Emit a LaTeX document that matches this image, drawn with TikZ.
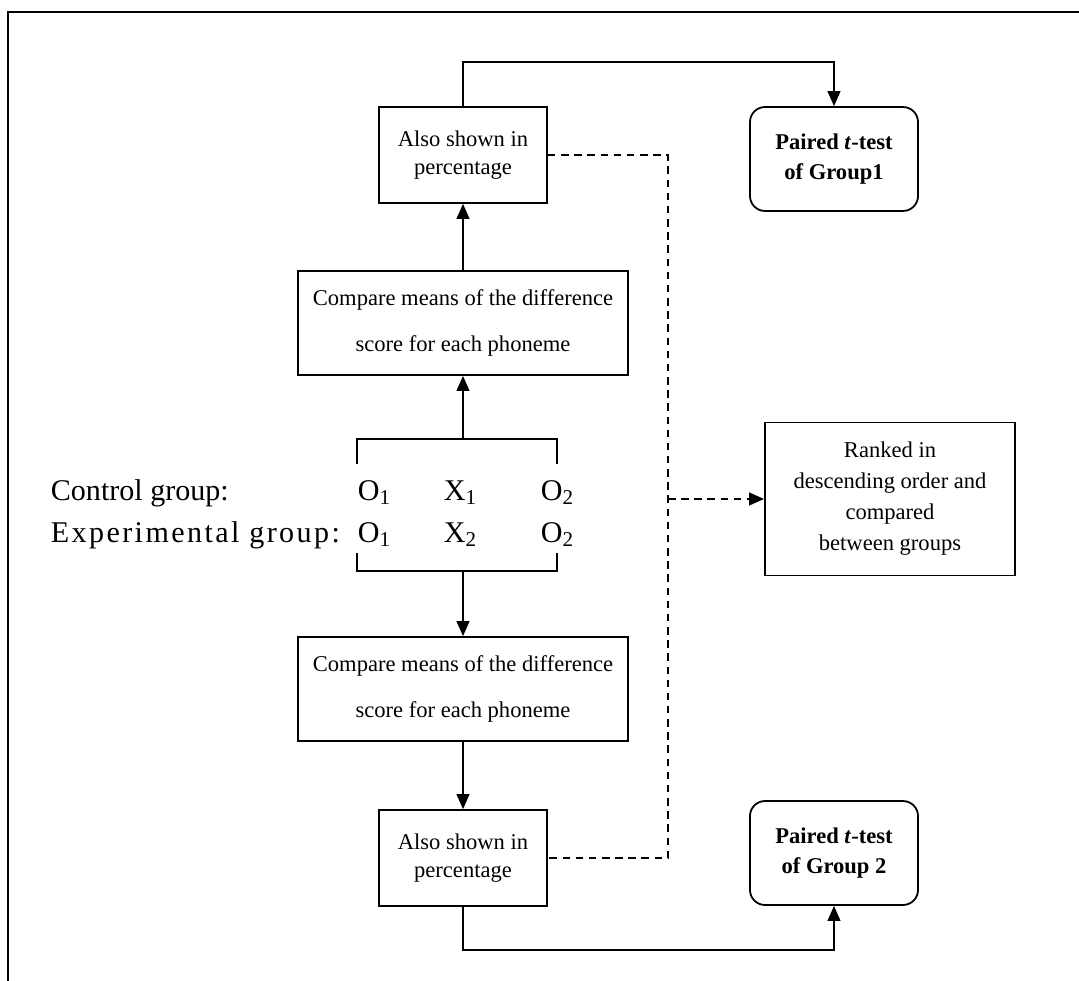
\documentclass[tikz,border=0pt]{standalone}
\usepackage{fontspec}
\setmainfont{Liberation Serif}
\usetikzlibrary{arrows.meta, positioning}

\begin{document}
\begin{tikzpicture}[x=0.532pt, y=-0.532pt, >={Triangle[length=8pt,width=6.8pt]},
    font=\fontsize{12}{15}\selectfont, line width=0.95pt,
    b/.style={rectangle, draw, line width=0.95pt, align=center, inner sep=2pt},
    pct/.style={b, minimum width=89.4pt, minimum height=51pt},
    cmp/.style={b, minimum width=175.6pt, minimum height=55.3pt, font=\fontsize{12}{24}\selectfont},
    ttest/.style={b, rounded corners=8pt, minimum width=89.4pt, minimum height=55.3pt, font=\bfseries\fontsize{12}{16}\selectfont},
    grp/.style={anchor=base west, inner sep=0pt, font=\fontsize{16}{19}\selectfont},
    dsh/.style={dash pattern=on 4pt off 3pt}]
\useasboundingbox (0,0) rectangle (1079,980);
\draw[line width=1.1pt] (8,1000) -- (8,12) -- (1100,12);
\node[pct] (top) at (463,155) {Also shown in\\percentage};
\node[ttest] (pt1) at (834,159) {Paired \textit{t}-test\\of Group1};
\node[cmp] (cmp1) at (463,323) {Compare means of the difference\\score for each phoneme};
\node[grp] (cl)  at (50,500)  {Control group:};
\node[grp] (co1) at (357,500) {O\textsubscript{1}};
\node[grp] (cx1) at (443,500) {X\textsubscript{1}};
\node[grp] (co2) at (540,500) {O\textsubscript{2}};
\node[grp] (el)  at (50,542)  {\addfontfeature{LetterSpace=8}Experimental group:};
\node[grp] (eo1) at (357,542) {O\textsubscript{1}};
\node[grp] (ex2) at (443,542) {X\textsubscript{2}};
\node[grp] (eo2) at (540,542) {O\textsubscript{2}};
\node[cmp] (cmp2) at (463,689) {Compare means of the difference\\score for each phoneme};
\node[pct] (bot) at (463,858) {Also shown in\\percentage};
\node[ttest] (pt2) at (834,853) {Paired \textit{t}-test\\of Group 2};
\node[b, minimum width=133pt, minimum height=81.4pt, font=\fontsize{12}{16.5}\selectfont] (rank) at (890,499)
    {Ranked in\\descending order and\\compared\\between groups};
\coordinate (brt) at (463,439);
\coordinate (brb) at (463,571);
\coordinate (dv) at (668,499);
\draw (357,464) |- (brt) -| (557,464);
\draw (357,553) |- (brb) -| (557,553);
\draw[->] (brt) -- (cmp1);
\draw[->] (cmp1) -- (top);
\draw[->] (top.north) -- ++(0,-44) -| (pt1.north);
\draw[->] (brb) -- (cmp2);
\draw[->] (cmp2) -- (bot);
\draw[->] (bot.south) -- ++(0,43) -| (pt2.south);
\draw[dsh] (top.east) -| (dv) |- (bot.east);
\draw[dsh, ->] (dv) -- (rank);
\end{tikzpicture}
\end{document}
